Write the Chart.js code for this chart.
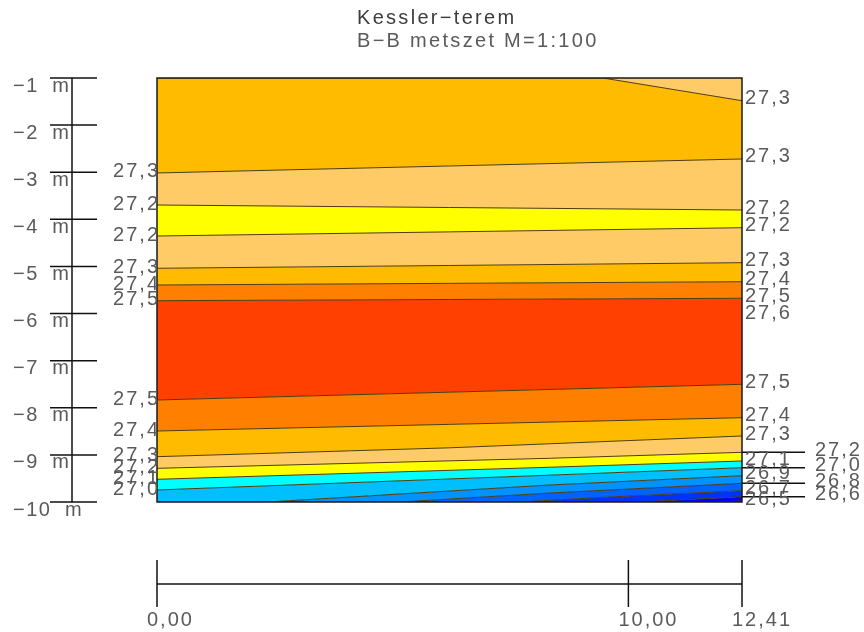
<!DOCTYPE html>
<html><head><meta charset="utf-8">
<script src="https://cdn.jsdelivr.net/npm/chart.js@4"></script>
<style>html,body{margin:0;padding:0;background:#fff}</style>
</head><body>
<canvas id="c" width="864" height="632"></canvas>
<script>
// ---- texts / ticks ----
const titleLines = ['Kessler−terem', 'B−B metszet M=1:100'];
const depthTicks = [-1, -2, -3, -4, -5, -6, -7, -8, -9, -10];
const distTicks = [0, 10, 12.41];
const distTickLabels = ['0,00', '10,00', '12,41'];
const distMax = 12.41, depthMin = -10, depthMax = -1;

// ---- contour levels (top to bottom) ----
const levels = ['27,3','27,3','27,2','27,2','27,3','27,4','27,5','27,5','27,4','27,3','27,2','27,1','27,0','26,9','26,8','26,7','26,6','26,5'];
// contour lines: [distance m, depth m]
const c27_3a = [[0,-1],[9.46,-1],[12.41,-1.482]];
const c27_3b = [[0,-3.016],[12.41,-2.719]];
const c27_2a = [[0,-3.696],[12.41,-3.802]];
const c27_2b = [[0,-4.354],[12.41,-4.178]];
const c27_3c = [[0,-5.039],[12.41,-4.920]];
const c27_4a = [[0,-5.394],[12.41,-5.324]];
const c27_5a = [[0,-5.727],[12.41,-5.676]];
const c27_5b = [[0,-7.835],[12.41,-7.502]];
const c27_4b = [[0,-8.493],[12.41,-8.211]];
const c27_3d = [[0,-9.038],[6.2,-8.85],[12.41,-8.599]];
const c27_2c = [[0,-9.285],[8.34,-9.072],[12.41,-8.945]];
const c27_1 = [[0,-9.518],[8.34,-9.262],[12.41,-9.130]];
const c27_0 = [[0,-9.745],[8.34,-9.430],[12.41,-9.272]];
const c26_9 = [[0,-10],[2.355,-10],[5.155,-9.830],[8.337,-9.639],[12.41,-9.442]];
const c26_8 = [[0,-10],[5.155,-10],[8.337,-9.809],[12.41,-9.603]];
const c26_7 = [[0,-10],[7.701,-10],[9.398,-9.904],[12.41,-9.760]];
const c26_6 = [[0,-10],[10.246,-10],[12.41,-9.887]];
const c26_5 = [[0,-10],[11.837,-10],[12.41,-9.979]];
const contours = [c27_3a,c27_3b,c27_2a,c27_2b,c27_3c,c27_4a,c27_5a,c27_5b,c27_4b,c27_3d,c27_2c,c27_1,c27_0,c26_9,c26_8,c26_7,c26_6,c26_5];
// band colour above each contour (between it and the previous one); first one = above line to top
const bandColors = ['#FFCB66','#FFBB00','#FFCB66','#FFFF00','#FFCB66','#FFBB00','#FF7F00','#FF4000','#FF7F00','#FFBB00','#FFCB66','#FFFF00','#00FFFF','#00BFFF','#0092FF','#0062FF','#0032FF','#0000FF'];
const bottomBandColor = '#0000C8';
// right-side labels moved out with a leader line
const extendedRight = [false,false,false,false,false,false,false,false,false,false,true,false,true,false,true,false,true,false];
// isolated label without visible contour
const extraRightLabels = ['27,6'];
const extraRightDepths = [-5.99];

const toPts = a => a.map(p => ({x: p[0], y: p[1]}));
const datasets = contours.map((c, i) => ({
  data: toPts(c),
  borderColor: '#4d3d12',
  borderWidth: 1,
  backgroundColor: bandColors[i],
  fill: i === 0 ? 'end' : '-1',
  pointRadius: 0,
  tension: 0
}));
datasets.push({
  data: toPts([[0,-10],[distMax,-10]]),
  borderWidth: 0, borderColor: 'rgba(0,0,0,0)',
  backgroundColor: bottomBandColor, fill: '-1', pointRadius: 0
});

const FONT = '20px "Liberation Sans", Arial, sans-serif';
function txt(ctx, s, x, y, align, color, spacing) {
  ctx.save();
  ctx.font = FONT;
  ctx.letterSpacing = (spacing || 0) + 'px';
  ctx.fillStyle = color;
  ctx.textBaseline = 'middle';
  const w = ctx.measureText(s).width - (spacing || 0);
  let sx = x;
  if (align === 'right') sx = x - w;
  else if (align === 'center') sx = x - w / 2;
  ctx.textAlign = 'left';
  ctx.fillText(s, sx, y);
  ctx.restore();
  return w;
}

const decor = {
  id: 'decor',
  afterDraw(chart) {
    const ctx = chart.ctx, xs = chart.scales.x, ys = chart.scales.y, a = chart.chartArea;
    const gray = '#5a5a5a';
    ctx.save();
    // frame
    ctx.strokeStyle = '#1a1a1a'; ctx.lineWidth = 1.5;
    ctx.strokeRect(a.left, a.top, a.right - a.left, a.bottom - a.top);
    // depth ruler
    const rx = 72;
    ctx.lineWidth = 1.5; ctx.strokeStyle = '#111';
    ctx.beginPath();
    ctx.moveTo(rx, ys.getPixelForValue(depthMax));
    ctx.lineTo(rx, ys.getPixelForValue(depthMin));
    ctx.stroke();
    depthTicks.forEach(d => {
      const py = ys.getPixelForValue(d);
      ctx.beginPath(); ctx.moveTo(50, py); ctx.lineTo(97, py); ctx.stroke();
      const w = txt(ctx, '−' + Math.abs(d), 13, py + 8, 'left', gray, 1.5);
      txt(ctx, 'm', 13 + w + 15, py + 8, 'left', gray, 0);
    });
    // left labels
    contours.forEach((c, i) => {
      const d = c[0][1];
      if (d > depthMin + 1e-6 && d < depthMax - 1e-6) {
        txt(ctx, levels[i], a.left + 1, ys.getPixelForValue(d) - 1, 'right', gray, 2);
      }
    });
    // right labels
    contours.forEach((c, i) => {
      const py = ys.getPixelForValue(c[c.length - 1][1]);
      if (extendedRight[i]) {
        ctx.strokeStyle = '#111'; ctx.lineWidth = 1.5;
        ctx.beginPath(); ctx.moveTo(a.right, py); ctx.lineTo(805, py); ctx.stroke();
        txt(ctx, levels[i], 815, py - 2, 'left', gray, 2);
      } else {
        txt(ctx, levels[i], a.right + 3, py - 2, 'left', gray, 2);
      }
    });
    extraRightLabels.forEach((s, i) => {
      txt(ctx, s, a.right + 3, ys.getPixelForValue(extraRightDepths[i]), 'left', gray, 2);
    });
    // distance scale bar
    const by = 584;
    ctx.strokeStyle = '#111'; ctx.lineWidth = 1.5;
    ctx.beginPath();
    ctx.moveTo(xs.getPixelForValue(0), by); ctx.lineTo(xs.getPixelForValue(distMax), by); ctx.stroke();
    distTicks.forEach((t, i) => {
      const px = xs.getPixelForValue(t);
      ctx.beginPath(); ctx.moveTo(px, 560); ctx.lineTo(px, 607); ctx.stroke();
      txt(ctx, distTickLabels[i], px - 10, 620, 'left', gray, 2);
    });
    // title
    txt(ctx, titleLines[0], 357, 18, 'left', '#3c3c3c', 2.3);
    txt(ctx, titleLines[1], 357, 41, 'left', '#5a5a5a', 2.3);
    ctx.restore();
  }
};

new Chart(document.getElementById('c'), {
  type: 'line',
  data: { datasets },
  options: {
    responsive: false,
    animation: false,
    devicePixelRatio: 1,
    layout: { padding: { left: 157, right: 122, top: 78, bottom: 130 } },
    plugins: { legend: { display: false }, tooltip: { enabled: false }, title: { display: false } },
    scales: {
      x: { type: 'linear', min: 0, max: distMax, display: false },
      y: { type: 'linear', min: depthMin, max: depthMax, display: false }
    },
    elements: { line: { capBezierPoints: false } }
  },
  plugins: [decor]
});
</script>
</body></html>
